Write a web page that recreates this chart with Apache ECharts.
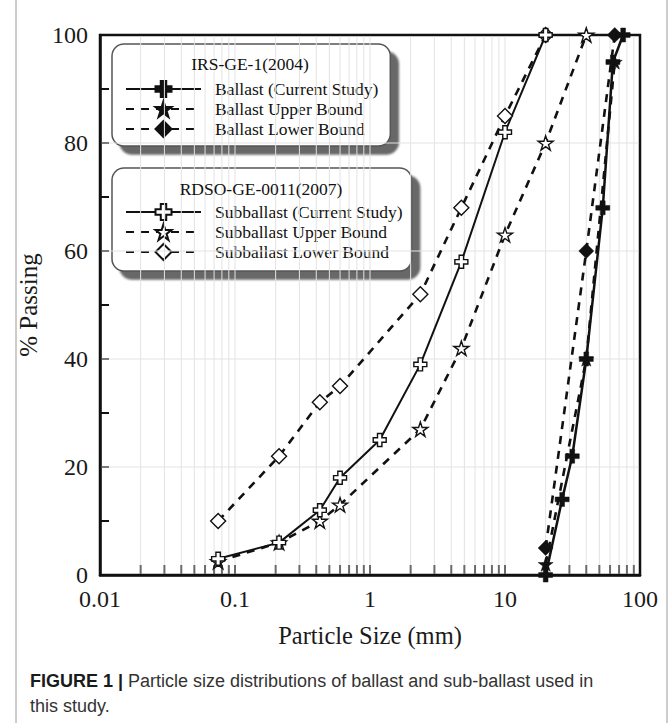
<!DOCTYPE html>
<html>
<head>
<meta charset="utf-8">
<script src="https://cdn.jsdelivr.net/npm/echarts@6/dist/echarts.min.js"></script>
<style>
  html, body { margin: 0; padding: 0; background: #fff; }
  #chart { width: 670px; height: 723px; }
</style>
</head>
<body>
<div id="chart"></div>
<script>
// Gradation data: sieve size (mm) and percent passing
const ballastSize = [20, 26.5, 31.5, 40, 53, 63, 75];
const ballastPassing = [0, 14, 22, 40, 68, 95, 100];
const ballastUpperSize = [20, 40, 65];
const ballastUpperPassing = [2, 40, 95];
const ballastLowerSize = [20, 40, 65];
const ballastLowerPassing = [5, 60, 100];

const subSize = [0.075, 0.212, 0.425, 0.6, 1.18, 2.36, 4.75, 10, 20];
const subPassing = [3, 6, 12, 18, 25, 39, 58, 82, 100];
const subUpperSize = [0.075, 0.212, 0.425, 0.6, 2.36, 4.75, 10, 20, 40];
const subUpperPassing = [2.5, 6, 10, 13, 27, 42, 63, 80, 100];
const subLowerSize = [0.075, 0.212, 0.425, 0.6, 2.36, 4.75, 10, 20];
const subLowerPassing = [10, 22, 32, 35, 52, 68, 85, 100];

// Axis ticks
const xTickLabels = { 0.01: '0.01', 0.1: '0.1', 1: '1', 10: '10', 100: '100' };
const xGridTicks = [
  0.02, 0.03, 0.04, 0.05, 0.06, 0.07, 0.08, 0.09, 0.1,
  0.2, 0.3, 0.4, 0.5, 0.6, 0.7, 0.8, 0.9, 1,
  2, 3, 4, 5, 6, 7, 8, 9, 10,
  20, 30, 40, 50, 60, 70, 80, 90
];
const yGridTicks = [20, 40, 60, 80];

const serif = "'Liberation Serif', 'Times New Roman', serif";
const starPath = 'path://M50,0L61.2,34.6L97.6,34.5L68.1,55.9L79.4,90.5L50,69L20.6,90.5L31.9,55.9L2.4,34.5L38.8,34.6Z';
const plusPath = 'path://M33,0H67V33H100V67H67V100H33V67H0V33H33Z';
const dash = [8, 7];

function pairs(xs, ys) { return xs.map((x, i) => [x, ys[i]]); }

function curve(name, xs, ys, symbol, size, dashed, filled, width) {
  return {
    name: name,
    type: 'line',
    data: pairs(xs, ys),
    symbol: symbol,
    symbolSize: size,
    symbolKeepAspect: true,
    showAllSymbol: true,
    clip: false,
    z: 6,
    lineStyle: { color: '#111', width: width, type: dashed ? dash : 'solid' },
    itemStyle: filled
      ? { color: '#111', borderColor: '#111', borderWidth: 0.5 }
      : { color: '#fff', borderColor: '#111', borderWidth: 1.4 },
    emphasis: { disabled: true },
    animation: false
  };
}

const chart = echarts.init(document.getElementById('chart'), null, { renderer: 'svg' });

const legendCommon = {
  orient: 'vertical',
  left: 112,
  itemWidth: 75,
  itemHeight: 20,
  itemGap: 2,
  backgroundColor: '#fff',
  borderColor: '#555',
  borderWidth: 1.5,
  borderRadius: 12,
  shadowColor: 'rgba(95,95,95,0.95)',
  shadowBlur: 2,
  shadowOffsetX: 8,
  shadowOffsetY: 8,
  selectedMode: false,
  z: 4,
  textStyle: { fontFamily: 'Liberation Serif', fontSize: 17.5, color: '#111', padding: [0, 0, 0, 9] }
};

chart.setOption({
  animation: false,
  backgroundColor: '#fff',
  grid: {
    left: 100, right: 30, top: 35, bottom: 148,
    show: true, borderColor: '#111', borderWidth: 2.5, backgroundColor: 'transparent',
    outerBoundsMode: 'none'
  },
  xAxis: {
    type: 'log', logBase: 10, min: 0.01, max: 100,
    name: 'Particle Size (mm)', nameLocation: 'middle', nameGap: 48,
    nameTextStyle: { fontFamily: serif, fontSize: 24.5, color: '#1a1a1a' },
    axisLine: { show: true, lineStyle: { color: '#111', width: 2.5 } },
    axisTick: { show: false },
    splitLine: { show: false },
    minorTick: { show: false },
    axisLabel: {
      fontFamily: serif, fontSize: 24, color: '#1a1a1a', margin: 12,
      formatter: v => xTickLabels[+v.toPrecision(6)] || ''
    }
  },
  yAxis: {
    type: 'value', min: 0, max: 100, interval: 20,
    name: '% Passing', nameLocation: 'middle', nameGap: 46, nameRotate: 90,
    nameTextStyle: { fontFamily: serif, fontSize: 25, color: '#1a1a1a' },
    axisLine: { show: true, lineStyle: { color: '#111', width: 2.5 } },
    axisTick: { show: true, inside: true, length: 9, lineStyle: { color: '#111', width: 2 } },
    minorTick: { show: true, splitNumber: 2, length: 9, lineStyle: { color: '#111', width: 2 } },
    splitLine: { show: false },
    axisLabel: { fontFamily: serif, fontSize: 24, color: '#1a1a1a', margin: 12 }
  },
  legend: [
    Object.assign({}, legendCommon, {
      top: 44, padding: [36, 12, 8, 13],
      data: ['Ballast (Current Study)', 'Ballast Upper Bound', 'Ballast Lower Bound']
    }),
    Object.assign({}, legendCommon, {
      top: 168, padding: [35, 9, 10, 13],
      data: ['Subballast (Current Study)', 'Subballast Upper Bound', 'Subballast Lower Bound']
    })
  ],
  graphic: [
    { type: 'text', x: 250, y: 64, z: 20,
      style: { text: 'IRS-GE-1(2004)', align: 'center', verticalAlign: 'middle',
               fontFamily: 'Liberation Serif', fontSize: 17.5, fill: '#111' } },
    { type: 'text', x: 261, y: 189, z: 20,
      style: { text: 'RDSO-GE-0011(2007)', align: 'center', verticalAlign: 'middle',
               fontFamily: 'Liberation Serif', fontSize: 17.5, fill: '#111' } },
    { type: 'line', z: 1, shape: { x1: 16, y1: 0, x2: 16, y2: 723 }, style: { stroke: '#9a9a9a', lineWidth: 1 } },
    { type: 'line', z: 1, shape: { x1: 667, y1: 0, x2: 667, y2: 723 }, style: { stroke: '#9a9a9a', lineWidth: 1 } },
    { type: 'text', x: 30, y: 668, z: 20,
      style: {
        text: '{b|FIGURE 1 |} Particle size distributions of ballast and sub-ballast used in\nthis study.',
        fontFamily: 'Liberation Sans', fontSize: 18,
        fill: '#333', lineHeight: 25,
        rich: { b: { fontWeight: 'bold', fill: '#1a1a1a', fontSize: 18,
                     fontFamily: 'Liberation Sans', lineHeight: 25 } }
      } }
  ],
  series: [
    // light grid lines and inner ticks on the size axis
    {
      type: 'custom', z: 5, silent: true, animation: false,
      data: xGridTicks.map(v => [v]),
      encode: { x: 0 },
      renderItem: function (params, api) {
        const v = api.value(0);
        const b = api.coord([v, 0]);
        const t = api.coord([v, 100]);
        return {
          type: 'group',
          children: [
            { type: 'line', shape: { x1: b[0], y1: b[1] - 1.5, x2: t[0], y2: t[1] + 1.5 },
              style: { stroke: '#e3e3e3', lineWidth: 1 } },
            { type: 'line', shape: { x1: b[0], y1: b[1] - 1, x2: b[0], y2: b[1] - 10 },
              style: { stroke: '#6a6a6a', lineWidth: 2 } }
          ]
        };
      }
    },
    // horizontal grid lines
    {
      type: 'custom', z: 5, silent: true, animation: false,
      data: yGridTicks.map(v => [v]),
      encode: { y: 0 },
      renderItem: function (params, api) {
        const v = api.value(0);
        const l = api.coord([0.01, v]);
        const r = api.coord([100, v]);
        return { type: 'line', shape: { x1: l[0] + 1.5, y1: l[1], x2: r[0] - 1.5, y2: r[1] },
                 style: { stroke: '#e3e3e3', lineWidth: 1 } };
      }
    },
    curve('Subballast Lower Bound', subLowerSize, subLowerPassing, 'diamond', 15, true, false, 2.6),
    curve('Subballast Upper Bound', subUpperSize, subUpperPassing, starPath, 15, true, false, 2.6),
    curve('Subballast (Current Study)', subSize, subPassing, plusPath, 13, false, false, 2),
    curve('Ballast Lower Bound', ballastLowerSize, ballastLowerPassing, 'diamond', 15, true, true, 2.6),
    curve('Ballast Upper Bound', ballastUpperSize, ballastUpperPassing, starPath, 15, true, true, 2.6),
    curve('Ballast (Current Study)', ballastSize, ballastPassing, plusPath, 14, false, true, 2.5)
  ]
});
</script>
</body>
</html>
